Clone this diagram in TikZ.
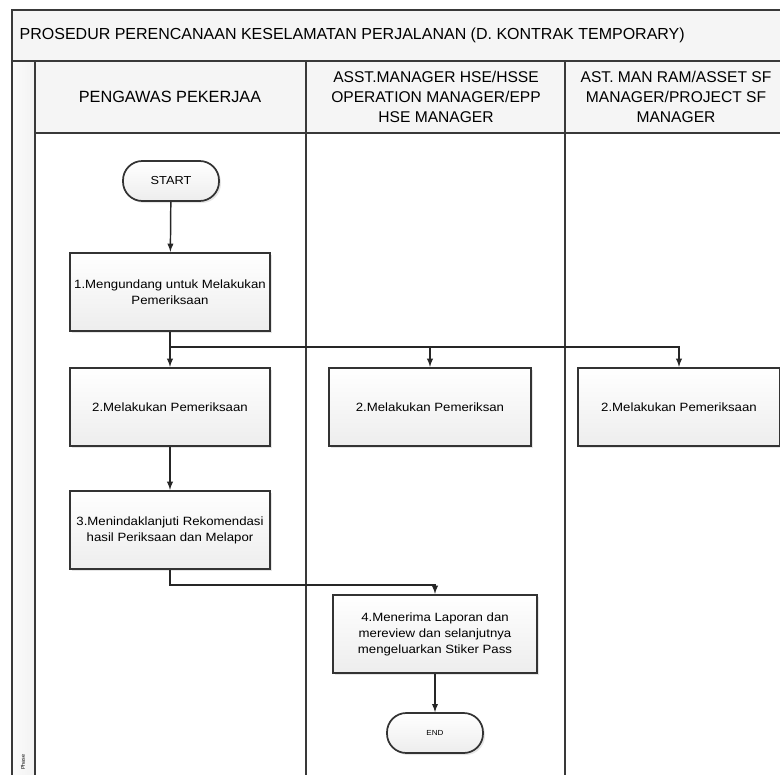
\documentclass[tikz,border=0pt]{standalone}
\usepackage{fontspec}
\setmainfont{Liberation Sans}
\newfontfamily\stepfont[FakeStretch=1.1]{Liberation Sans}
\usetikzlibrary{arrows, shadows}

\begin{document}
\begin{tikzpicture}[x=0.75pt, y=-0.75pt,
    lanebox/.style={draw=gray!45!black, line width=1.5pt},
    headcell/.style={lanebox, fill=gray!8},
    stepbox/.style={draw=gray!40!black, line width=1.3pt, top color=white, bottom color=gray!14,
        drop shadow={opacity=0.2, shadow xshift=1.5pt, shadow yshift=-1.5pt},
        align=center, minimum width=150pt, minimum height=59pt, inner sep=2pt,
        font=\stepfont\fontsize{9}{12}\selectfont},
    terminal/.style={stepbox, rounded corners=14.5pt, minimum width=72pt, minimum height=30pt},
    conn/.style={draw=gray!30!black, line width=1.1pt, -latex}]

    \useasboundingbox (0,0) rectangle (780,774);
    \clip (0,0) rectangle (780,774);

    % --- Frame: title band, phase column and lanes ---
    \draw[headcell] (12,10) rectangle (820,61);
    \node[anchor=west, font=\fontsize{12}{14}\selectfont] (title) at (15,35)
        {PROSEDUR PERENCANAAN KESELAMATAN PERJALANAN (D. KONTRAK TEMPORARY)};
    \draw[lanebox, left color=gray!3, right color=gray!10] (12,61) rectangle (35,820);
    \foreach \xa/\xb in {35/306, 306/565, 565/820} {
        \draw[headcell] (\xa,61) rectangle (\xb,133);
        \draw[lanebox] (\xa,133) rectangle (\xb,820);
    }
    \node[rotate=90, font=\fontsize{4}{5}\selectfont] (phase) at (23,762) {Phase};

    % --- Lane headers ---
    \begin{scope}[every node/.style={align=center, font=\fontsize{11.7}{15}\selectfont}]
        \node[font=\fontsize{12.2}{15}\selectfont] (hdrA) at (170,97) {PENGAWAS PEKERJAA};
        \node (hdrB) at (436,97) {ASST.MANAGER HSE/HSSE\\OPERATION MANAGER/EPP\\HSE MANAGER};
        \node (hdrC) at (676,97) {AST. MAN RAM/ASSET SF\\MANAGER/PROJECT SF\\MANAGER};
    \end{scope}

    % --- Steps ---
    \node[terminal, font=\stepfont\fontsize{8.7}{10}\selectfont] (start) at (171,181) {START};
    \node[stepbox] (box1) at (170,292) {1.Mengundang untuk Melakukan\\Pemeriksaan};
    \node[stepbox] (box2a) at (170,407) {2.Melakukan Pemeriksaan};
    \node[stepbox, minimum width=152pt] (box2b) at (430,407) {2.Melakukan Pemeriksan};
    \node[stepbox, minimum width=152pt] (box2c) at (679,407) {2.Melakukan Pemeriksaan};
    \node[stepbox] (box3) at (170,530) {3.Menindaklanjuti Rekomendasi\\hasil Periksaan dan Melapor};
    \node[stepbox, minimum width=153pt] (box4) at (435,634)
        {4.Menerima Laporan dan\\mereview dan selanjutnya\\mengeluarkan Stiker Pass};
    \node[terminal, font=\stepfont\fontsize{5.5}{7}\selectfont] (end) at (435,733) {END};

    % --- Connectors ---
    \coordinate (split) at (170,347);
    \draw[conn] (start) -- (box1);
    \draw[conn] (box1) -- (box2a);
    \draw[conn] (split) -| (box2b.north);
    \draw[conn] (split) -| (box2c.north);
    \draw[conn] (box2a) -- (box3);
    \draw[conn] (box3.south) -- ++(0,15) -| (box4.north);
    \draw[conn] (box4) -- (end);

\end{tikzpicture}
\end{document}
